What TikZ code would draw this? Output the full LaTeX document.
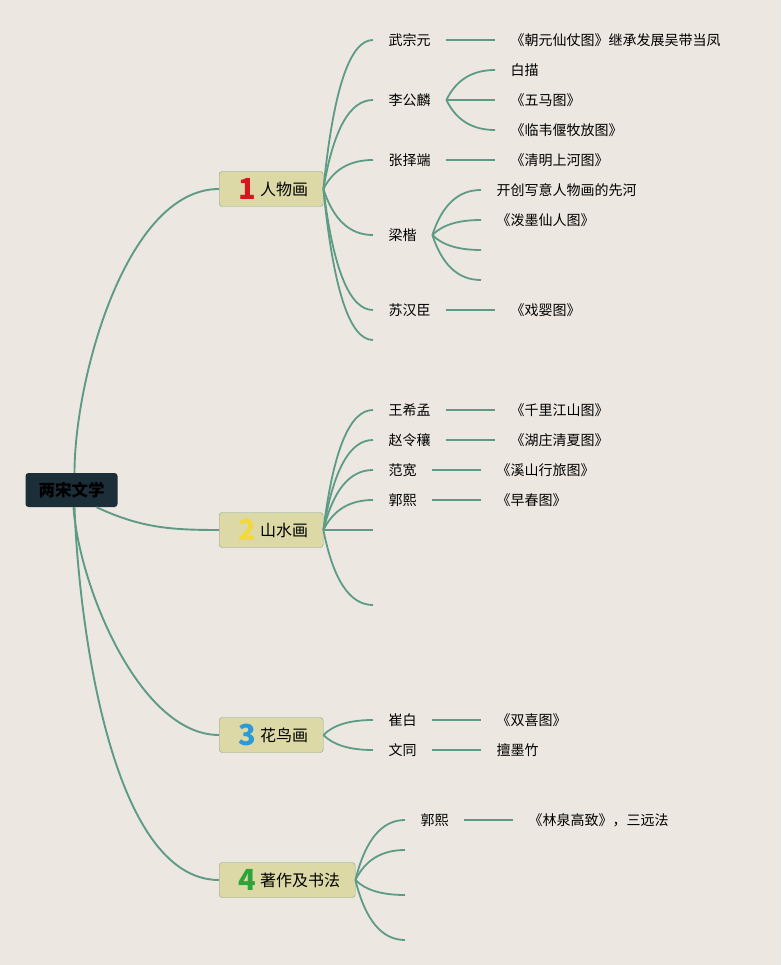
\documentclass[tikz,border=0pt]{standalone}
\usepackage{fontspec}
\setmainfont{Noto Sans CJK SC}
\usetikzlibrary{calc}
\definecolor{paper}{HTML}{ECE8E1}
\definecolor{rootdark}{HTML}{1C2E38}
\definecolor{topicfill}{HTML}{DCD9A7}
\definecolor{topicedge}{HTML}{7FA888}
\definecolor{linkgreen}{HTML}{5E9B86}
\definecolor{numred}{HTML}{D4161E}
\definecolor{numyellow}{HTML}{F3D83A}
\definecolor{numblue}{HTML}{2B9AD8}
\definecolor{numgreen}{HTML}{2BA43A}
\newcommand{\numicon}[2]{\makebox[26pt][c]{\raisebox{-4pt}[0pt][0pt]{\fontsize{29}{29}\selectfont\bfseries\color{#1}#2}}}

\begin{document}
\begin{tikzpicture}[x=1pt, y=-1pt,
    font=\fontsize{14}{16}\selectfont,
    root/.style={fill=rootdark, rounded corners=3pt, minimum width=92pt,
      minimum height=34pt, font=\fontsize{16.5}{18}\selectfont\bfseries},
    topic/.style={draw=topicedge, fill=topicfill, rounded corners=3pt, anchor=west,
      inner xsep=15pt, minimum height=35pt, font=\fontsize{16}{18}\selectfont},
    leaf/.style={anchor=west, inner xsep=15.5pt, inner ysep=2pt},
    trunk/.style={draw=linkgreen, line width=1.9pt},
    link/.style={draw=linkgreen, line width=1.8pt,
      to path={let \p1=(\tikztostart), \p2=(\tikztotarget) in
        .. controls ({\x1+0.2*(\x2-\x1)},{\y1+0.667*(\y2-\y1)})
        and ({\x2-0.47*(\x2-\x1)},\y2) .. (\tikztotarget)}}
  ]
    \fill[paper] (0,0) rectangle (781,965);
    \useasboundingbox (0,0) rectangle (781,965);

    \node[root] (root) at (71.5,490) {两宋文学};

    \node[topic] (figure) at (219,189) {\numicon{numred}{1}人物画};
    \node[topic] (landscape) at (219,530) {\numicon{numyellow}{2}山水画};
    \node[topic] (bird) at (219,735) {\numicon{numblue}{3}花鸟画};
    \node[topic] (writing) at (219,880) {\numicon{numgreen}{4}著作及书法};

    % 人物画
    \node[leaf] (wzy) at (373,40) {武宗元};
    \node[leaf] (lgl) at (373,100) {李公麟};
    \node[leaf] (zzd) at (373,160) {张择端};
    \node[leaf] (lk) at (373,235) {梁楷};
    \node[leaf] (shc) at (373,310) {苏汉臣};
    \coordinate (figempty) at (373,340);

    \node[leaf] (chaoyuan) at (495,40) {《朝元仙仗图》继承发展吴带当凤};
    \node[leaf] (baimiao) at (495,70) {白描};
    \node[leaf] (wuma) at (495,100) {《五马图》};
    \node[leaf] (linwei) at (495,130) {《临韦偃牧放图》};
    \node[leaf] (qingming) at (495,160) {《清明上河图》};
    \node[leaf] (xieyi) at (481,190) {开创写意人物画的先河};
    \node[leaf] (pomo) at (481,220) {《泼墨仙人图》};
    \coordinate (lkempty1) at (481,250);
    \coordinate (lkempty2) at (481,280);
    \node[leaf] (xiying) at (495,310) {《戏婴图》};

    % 山水画
    \node[leaf] (wxm) at (373,410) {王希孟};
    \node[leaf] (zlr) at (373,440) {赵令穰};
    \node[leaf] (fk) at (373,470) {范宽};
    \node[leaf] (gx) at (373,500) {郭熙};
    \coordinate (landempty1) at (373,530);
    \coordinate (landempty2) at (373,605);

    \node[leaf] (qianli) at (495,410) {《千里江山图》};
    \node[leaf] (huzhuang) at (495,440) {《湖庄清夏图》};
    \node[leaf] (xishan) at (481,470) {《溪山行旅图》};
    \node[leaf] (zaochun) at (481,500) {《早春图》};

    % 花鸟画
    \node[leaf] (cb) at (373,720) {崔白};
    \node[leaf] (wt) at (373,750) {文同};
    \node[leaf] (shuangxi) at (481,720) {《双喜图》};
    \node[leaf] (mozhu) at (481,750) {擅墨竹};

    % 著作及书法
    \node[leaf] (gxw) at (405,820) {郭熙};
    \coordinate (writeempty1) at (405,850);
    \coordinate (writeempty2) at (405,895);
    \coordinate (writeempty3) at (405,940);
    \node[leaf] (linquan) at (513,820) {《林泉高致》，三远法};

    \draw[trunk] ([xshift=3pt]root.north) to[out=90,in=180,looseness=0.75] (figure.west);
    \draw[trunk] ([xshift=25pt]root.south) to[out=-25,in=180] (landscape.west);
    \draw[trunk] ([xshift=2pt]root.south) to[out=-86,in=180,looseness=0.75] (bird.west);
    \draw[trunk] ([xshift=3pt]root.south) to[out=-88,in=180,looseness=0.7] (writing.west);

    \foreach \child in {wzy,lgl,zzd,lk,shc}
      \draw[link] (figure.east) to (\child.west);
    \draw[link] (figure.east) to (figempty);
    \draw[link] (wzy.east) to (chaoyuan.west);
    \foreach \child in {baimiao,wuma,linwei}
      \draw[link] (lgl.east) to (\child.west);
    \draw[link] (zzd.east) to (qingming.west);
    \draw[link] (lk.east) to (xieyi.west);
    \draw[link] (lk.east) to (pomo.west);
    \draw[link] (lk.east) to (lkempty1);
    \draw[link] (lk.east) to (lkempty2);
    \draw[link] (shc.east) to (xiying.west);

    \foreach \child in {wxm,zlr,fk,gx}
      \draw[link] (landscape.east) to (\child.west);
    \draw[link] (landscape.east) to (landempty1);
    \draw[link] (landscape.east) to (landempty2);
    \draw[link] (wxm.east) to (qianli.west);
    \draw[link] (zlr.east) to (huzhuang.west);
    \draw[link] (fk.east) to (xishan.west);
    \draw[link] (gx.east) to (zaochun.west);

    \draw[link] (bird.east) to (cb.west);
    \draw[link] (bird.east) to (wt.west);
    \draw[link] (cb.east) to (shuangxi.west);
    \draw[link] (wt.east) to (mozhu.west);

    \draw[link] (writing.east) to (gxw.west);
    \foreach \child in {writeempty1,writeempty2,writeempty3}
      \draw[link] (writing.east) to (\child);
    \draw[link] (gxw.east) to (linquan.west);
  \end{tikzpicture}
\end{document}
